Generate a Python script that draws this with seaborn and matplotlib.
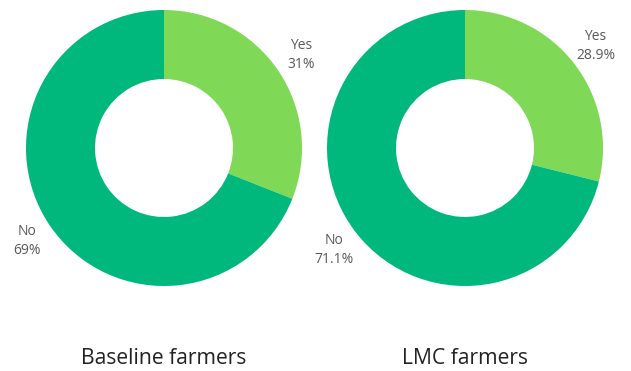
import matplotlib
matplotlib.use("Agg")
import matplotlib.pyplot as plt
import seaborn as sns

sns.set_theme(style="white")
plt.rcParams["font.family"] = ["Open Sans", "DejaVu Sans"]

# Share of farmers answering Yes / No
groups = ["Baseline farmers", "LMC farmers"]
answers = ["Yes", "No"]
baseline_pct = [31, 69]
lmc_pct = [28.9, 71.1]
pct_labels = [["31%", "69%"], ["28.9%", "71.1%"]]

colors = ["#7fd957", "#00b87c"]

W, H = 631, 371
fig = plt.figure(figsize=(W / 100, H / 100), dpi=100)
fig.patch.set_facecolor("white")

centers_px = [(164, 148), (465, 148)]
radius_px = 138

for (cx, cy), title, values, labs in zip(centers_px, groups, [baseline_pct, lmc_pct], pct_labels):
    ax = fig.add_axes([(cx - radius_px) / W, 1 - (cy + radius_px) / H,
                       2 * radius_px / W, 2 * radius_px / H])
    ax.pie(values, colors=colors, startangle=90, counterclock=False,
           wedgeprops=dict(width=0.5, linewidth=0),
           labels=[f"{a}\n{p}" for a, p in zip(answers, labs)],
           labeldistance=1.2,
           textprops=dict(color="#595959", fontsize=10, ha="center", va="center",
                          linespacing=1.3),
           radius=1.0)
    for t in ax.texts:
        t.set_horizontalalignment("center")
    ax.set_xlim(-1, 1)
    ax.set_ylim(-1, 1)
    ax.set_aspect("equal")
    ax.axis("off")
    fig.text(cx / W, 1 - 358 / H, title, ha="center", va="center",
             fontsize=15.2, color="#222222")

fig.savefig("out.png", dpi=100, facecolor="white")
